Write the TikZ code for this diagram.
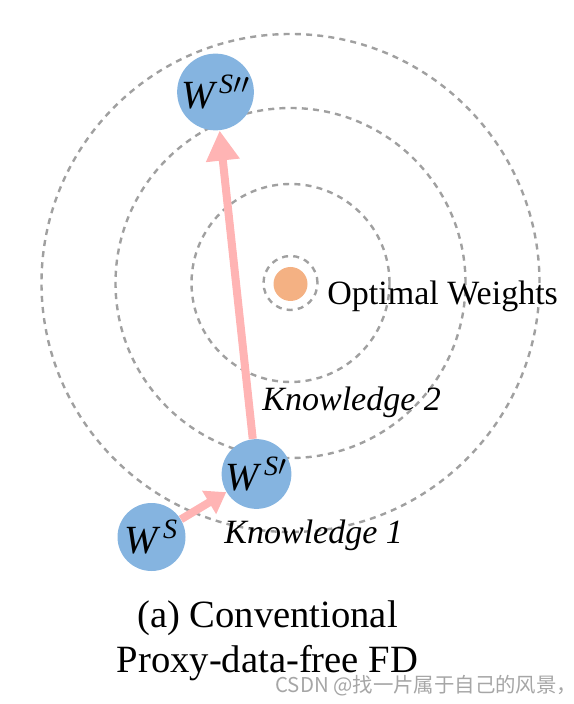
\documentclass[tikz,border=0pt]{standalone}
\usepackage{fontspec}
\setmainfont{Liberation Serif}
\newfontfamily\cjk{Noto Sans CJK SC}
\usetikzlibrary{arrows.meta}

\definecolor{wblue}{RGB}{133,180,224}
\definecolor{optorange}{RGB}{244,177,131}
\definecolor{steppink}{RGB}{255,180,180}
\definecolor{ringgray}{RGB}{160,160,160}

\tikzset{
  ring/.style={draw=ringgray,line width=1.2pt,dash pattern=on 3pt off 2.6pt},
  weight/.style={circle,fill=wblue,minimum size=34pt,inner sep=0pt,font=\fontsize{20}{24}\selectfont},
  stepline/.style={draw=steppink,line width=4pt},
  lbl/.style={inner sep=0pt,font=\fontsize{17}{20}\selectfont}
}

\begin{document}
\begin{tikzpicture}[x=0.5pt,y=-0.5pt]
\useasboundingbox (0,0) rectangle (573,704);

\coordinate (c) at (290.5,283);
\draw[ring] (c) circle[radius=124.5pt];
\draw[ring] (c) circle[radius=87.5pt];
\draw[ring] (c) circle[radius=49.5pt];
\draw[ring] (c) circle[radius=13.5pt];
\node[circle,fill=optorange,minimum size=17pt,inner sep=0pt] (opt) at (290.5,284) {};

\node[weight] (ws) at (151.5,537) {$\mathit{W}^{\,\mathit{S}}$};
\node[weight] (ws1) at (256.5,474) {$\mathit{W}^{\,\mathit{S}\prime}$};
\node[weight] (ws2) at (215.5,92) {$\mathit{W}^{\,\mathit{S}\prime\prime}$};

\draw[stepline,-{Triangle[length=15pt,width=16pt]}] (ws1) -- (ws2);
\draw[stepline,-{Triangle[length=10pt,width=13pt]}] (ws) -- (ws1);

\node[lbl,anchor=base west] (optlbl) at (327,305) {Optimal Weights};
\node[lbl,anchor=base west] (k2) at (262,410) {\textit{Knowledge 2}};
\node[lbl,anchor=base west] (k1) at (224,543) {\textit{Knowledge 1}};

\node[inner sep=0pt,align=center,font=\fontsize{19.3}{22.5}\selectfont,anchor=base] (cap) at (267.5,672)
  {(a) Conventional\\Proxy-data-free FD};

\node[inner sep=0pt,anchor=base west,text=black!35,font=\cjk\fontsize{10.2}{12}\selectfont] (mark) at (275,692)
  {CSDN @找一片属于自己的风景，};
\end{tikzpicture}
\end{document}
